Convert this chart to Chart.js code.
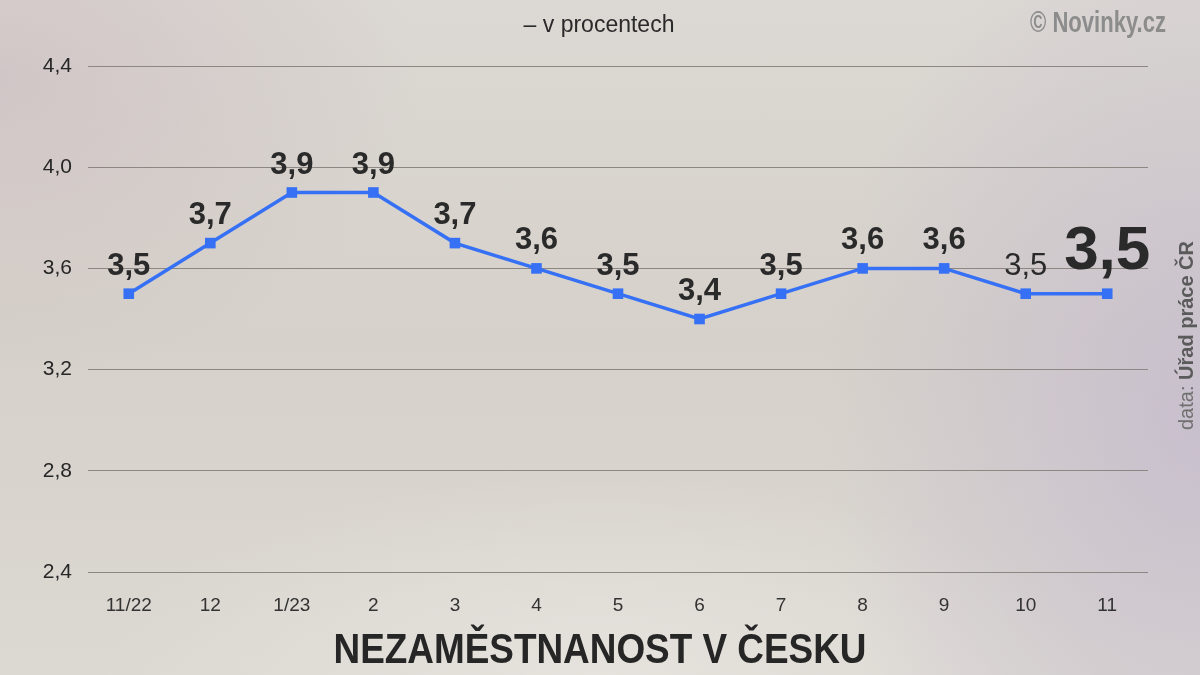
<!DOCTYPE html>
<html>
<head>
<meta charset="utf-8">
<script src="https://cdn.jsdelivr.net/npm/chart.js@4.4.1/dist/chart.umd.min.js"></script>
<style>
  html, body { margin: 0; padding: 0; }
  body {
    width: 1200px; height: 675px; overflow: hidden;
    background:
      radial-gradient(ellipse 420px 300px at 0px 80px, rgba(200,185,190,0.55), rgba(200,185,190,0)),
      radial-gradient(ellipse 380px 520px at 1200px 420px, rgba(195,185,205,0.75), rgba(195,185,205,0)),
      radial-gradient(ellipse 500px 200px at 600px 675px, rgba(232,229,224,0.8), rgba(232,229,224,0)),
      linear-gradient(180deg, #dcd8d3 0%, #d6d1ca 50%, #dcd8d2 100%);
  }
  #wrap { position: absolute; left: 0; top: 0; width: 1200px; height: 675px; }
</style>
</head>
<body>
<div id="wrap"><canvas id="unemployChart" width="1200" height="675"></canvas></div>
<script>
const months = ['11/22', '12', '1/23', '2', '3', '4', '5', '6', '7', '8', '9', '10', '11'];
const rates = [3.5, 3.7, 3.9, 3.9, 3.7, 3.6, 3.5, 3.4, 3.5, 3.6, 3.6, 3.5, 3.5];
const yTicks = [2.4, 2.8, 3.2, 3.6, 4.0, 4.4];

const textColor = '#2a2a2a';

function fmt(v) {
    return v.toFixed(1).replace('.', ',');
}

// draws text squeezed horizontally to a given width
function drawSqueezed(ctx, text, x, y, font, width) {
    ctx.save();
    ctx.font = font;
    const w = ctx.measureText(text).width;
    const s = Math.min(1, width / w);
    ctx.translate(x, y);
    ctx.scale(s, 1);
    ctx.fillText(text, 0, 0);
    ctx.restore();
}

const labelsPlugin = {
    id: 'valueLabels',
    afterDatasetsDraw(chart) {
        const ctx = chart.ctx;
        const meta = chart.getDatasetMeta(0);
        ctx.save();
        ctx.fillStyle = textColor;
        ctx.textAlign = 'center';
        ctx.textBaseline = 'alphabetic';
        meta.data.forEach((pt, i) => {
            const last = i === rates.length - 1;
            if (last) {
                ctx.font = 'bold 62px "Liberation Sans", Arial, sans-serif';
                ctx.fillText(fmt(rates[i]), pt.x, pt.y - 25);
            } else {
                const weight = i === rates.length - 2 ? 'normal' : 'bold';
                ctx.font = weight + ' 31px "Liberation Sans", Arial, sans-serif';
                ctx.fillText(fmt(rates[i]), pt.x, pt.y - 19);
            }
        });
        ctx.restore();
    }
};

const textPlugin = {
    id: 'extraText',
    afterDraw(chart) {
        const ctx = chart.ctx;
        ctx.save();
        ctx.textBaseline = 'alphabetic';

        ctx.fillStyle = '#262626';
        ctx.textAlign = 'center';
        drawSqueezed(ctx, 'NEZAMĚSTNANOST V ČESKU', 600, 663, 'bold 42px "Liberation Sans", Arial, sans-serif', 533);

        ctx.fillStyle = '#2a2a2a';
        drawSqueezed(ctx, '– v procentech', 599, 32, '23px "Liberation Sans", Arial, sans-serif', 163);

        ctx.fillStyle = '#8c8c8c';
        ctx.textAlign = 'right';
        drawSqueezed(ctx, '© Novinky.cz', 1166, 32, 'bold 29px "Liberation Sans", Arial, sans-serif', 136);

        // source, rotated
        ctx.translate(1193, 430);
        ctx.rotate(-Math.PI / 2);
        ctx.textAlign = 'left';
        ctx.fillStyle = '#707070';
        ctx.font = '20px "Liberation Sans", Arial, sans-serif';
        ctx.fillText('data: ', 0, 0);
        const w = ctx.measureText('data: ').width;
        ctx.fillStyle = '#5a5a5a';
        ctx.font = 'bold 20px "Liberation Sans", Arial, sans-serif';
        ctx.fillText('Úřad práce ČR', w, 0);
        ctx.restore();
    }
};

const ctx = document.getElementById('unemployChart').getContext('2d');
const myChart = new Chart(ctx, {
    type: 'line',
    data: {
        labels: months,
        datasets: [{
            data: rates,
            borderColor: '#3570f5',
            backgroundColor: '#3570f5',
            borderWidth: 3.5,
            pointStyle: 'rect',
            pointRadius: 7.5,
            pointBorderWidth: 0,
            pointHoverRadius: 7.5,
            tension: 0,
            clip: false
        }]
    },
    options: {
        responsive: false,
        animation: false,
        layout: { padding: { top: 66, right: 52, bottom: 0, left: 0 } },
        plugins: {
            legend: { display: false },
            tooltip: { enabled: false }
        },
        scales: {
            x: {
                offset: true,
                grid: { display: false },
                border: { display: false },
                ticks: {
                    color: '#333',
                    padding: 14,
                    font: { family: '"Liberation Sans", Arial, sans-serif', size: 19 }
                },
                afterFit(scale) { scale.height = 103; }
            },
            y: {
                min: 2.4,
                max: 4.4,
                afterBuildTicks(scale) { scale.ticks = yTicks.map(v => ({ value: v })); },
                grid: { color: '#8c8782', lineWidth: 1, drawTicks: false },
                border: { display: false },
                ticks: {
                    color: '#262626',
                    padding: 16,
                    font: { family: '"Liberation Sans", Arial, sans-serif', size: 21 },
                    callback: v => fmt(v)
                },
                afterFit(scale) { scale.width = 88; }
            }
        }
    },
    plugins: [labelsPlugin, textPlugin]
});
</script>
</body>
</html>
